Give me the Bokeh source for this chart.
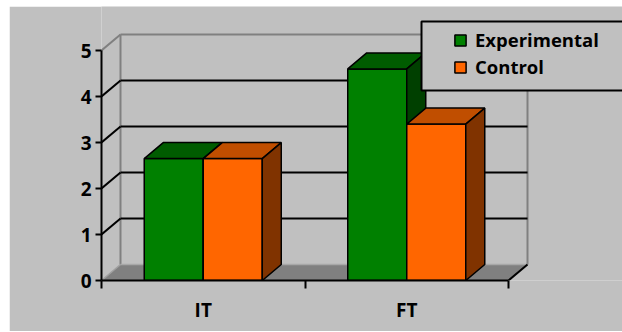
from bokeh.plotting import figure
from bokeh.models import Range1d, FixedTicker, Legend, LegendItem, ColumnDataSource
from bokeh.embed import file_html
from bokeh.resources import INLINE

# ---------------- data ----------------
categories = ["IT", "FT"]
series_names = ["Experimental", "Control"]
experimental = [2.65, 4.6]
control = [2.65, 3.4]
y_ticks = [0, 1, 2, 3, 4, 5]

# ---------------- style / layout ----------------
BG = "#C0C0C0"
FRONT = ["#008000", "#FF6600"]
TOP = ["#005C00", "#C04E00"]
SIDE = ["#004000", "#803300"]
FONT = "Open Sans"

PX_X = 203.5          # pixels per category unit
PX_Y = 46.0           # pixels per value unit
FRAME_LEFT = 101      # absolute px of frame left
FRAME_BOTTOM = 280    # absolute px of frame bottom
FRAME_W = 622 - FRAME_LEFT
FRAME_H = FRAME_BOTTOM - 6
DX = 19 / PX_X        # 3-D depth in x units
DY = 16 / PX_Y        # 3-D depth in value units
BAR_W = 0.29
N = len(categories)
YMAX = max(y_ticks)


def sx(px):
    return (px - FRAME_LEFT) / PX_X


def sy(py):
    return (FRAME_BOTTOM - py) / PX_Y


p = figure(width=613, height=325, output_backend="svg", toolbar_location=None,
           x_range=Range1d(0, FRAME_W / PX_X), y_range=Range1d(0, FRAME_H / PX_Y),
           min_border_left=FRAME_LEFT - 9, min_border_right=0, min_border_top=0,
           min_border_bottom=331 - FRAME_BOTTOM,
           background_fill_color=BG, border_fill_color=BG, outline_line_color=None)
p.margin = (6, 0, 1, 9)
p.grid.visible = False

# ---------------- walls ----------------
inner = y_ticks[1:-1]
# back wall vertical edges
p.segment(x0=[DX, N + DX], y0=[DY, DY], x1=[DX, N + DX], y1=[YMAX + DY, YMAX + DY],
          line_color="#808080", line_width=2)
# back wall gridlines
p.segment(x0=[DX] * len(inner), y0=[v + DY for v in inner],
          x1=[N + DX] * len(inner), y1=[v + DY for v in inner],
          line_color="black", line_width=2)
p.segment(x0=[DX], y0=[YMAX + DY], x1=[N + DX], y1=[YMAX + DY],
          line_color="#808080", line_width=2)
# side wall diagonals
p.segment(x0=[0] * len(inner), y0=inner, x1=[DX] * len(inner), y1=[v + DY for v in inner],
          line_color="black", line_width=2)
p.segment(x0=[0], y0=[YMAX], x1=[DX], y1=[YMAX + DY], line_color="#808080", line_width=2)

# floor
p.patch(x=[0, N, N + DX, DX], y=[0, 0, DY, DY], fill_color="#808080", line_color=None)
p.segment(x0=[DX], y0=[DY], x1=[N + DX], y1=[DY], line_color="#A8A8A8", line_width=1.5)
p.segment(x0=[0], y0=[0], x1=[DX], y1=[DY], line_color="#A0A0A0", line_width=1.5)
p.segment(x0=[N], y0=[0], x1=[N + DX], y1=[DY], line_color="black", line_width=2)

# ---------------- bars ----------------
front_renderers = []
for si, vals in enumerate([experimental, control]):
    lefts = [ci + 0.5 - BAR_W + si * BAR_W for ci in range(N)]
    rights = [l + BAR_W for l in lefts]
    src = ColumnDataSource(dict(left=lefts, right=rights, top=vals, bottom=[0] * N))
    r = p.quad(left="left", right="right", top="top", bottom="bottom", source=src,
               fill_color=FRONT[si], line_color="black", line_width=1.5)
    front_renderers.append(r)
    top_xs = [[l, rr, rr + DX, l + DX] for l, rr in zip(lefts, rights)]
    top_ys = [[v, v, v + DY, v + DY] for v in vals]
    p.patches(xs=top_xs, ys=top_ys, fill_color=TOP[si], line_color="black", line_width=1.5)
    side_xs = [[rr, rr + DX, rr + DX, rr] for rr in rights]
    side_ys = [[0, DY, v + DY, v] for v in vals]
    p.patches(xs=side_xs, ys=side_ys, fill_color=SIDE[si], line_color="black", line_width=1.5)

# legend box
p.quad(left=[sx(421)], right=[sx(640)], top=[sy(21)], bottom=[sy(90)],
       fill_color=BG, line_color="black", line_width=2)

# ---------------- axes ----------------
yax = p.yaxis[0]
yax.ticker = FixedTicker(ticks=y_ticks, minor_ticks=[])
yax.bounds = (0, YMAX)
yax.axis_line_width = 2
yax.axis_line_color = "black"
yax.major_tick_line_width = 2
yax.major_tick_out = 6
yax.major_tick_in = 0
yax.minor_tick_line_color = None
yax.major_label_standoff = 4
yax.major_label_text_font = FONT
yax.major_label_text_font_style = "bold"
yax.major_label_text_font_size = "19px"
yax.major_label_text_color = "black"

xax = p.xaxis[0]
xax.ticker = FixedTicker(ticks=[i + 0.5 for i in range(N)], minor_ticks=list(range(N + 1)))
xax.major_label_overrides = {i + 0.5: c for i, c in enumerate(categories)}
xax.bounds = (0, N)
xax.axis_line_width = 2
xax.axis_line_color = "black"
xax.major_tick_line_color = None
xax.major_tick_out = 0
xax.major_tick_in = 0
xax.minor_tick_line_color = "black"
xax.minor_tick_line_width = 2
xax.minor_tick_out = 8
xax.minor_tick_in = 0
xax.major_label_standoff = 8
xax.major_label_text_font = FONT
xax.major_label_text_font_style = "bold"
xax.major_label_text_font_size = "19px"
xax.major_label_text_color = "black"

# ---------------- legend ----------------
legend = Legend(items=[LegendItem(label=series_names[i], renderers=[front_renderers[i]])
                       for i in range(len(series_names))],
                location=(453 - FRAME_LEFT, FRAME_BOTTOM - 79), padding=0, margin=0,
                spacing=2, glyph_width=14, glyph_height=14, label_standoff=8,
                label_height=14, border_line_alpha=0, background_fill_alpha=0,
                label_text_font=FONT, label_text_font_style="bold",
                label_text_font_size="18.5px", label_text_color="black")
p.add_layout(legend)

open("out.html", "w").write(file_html(p, INLINE))
